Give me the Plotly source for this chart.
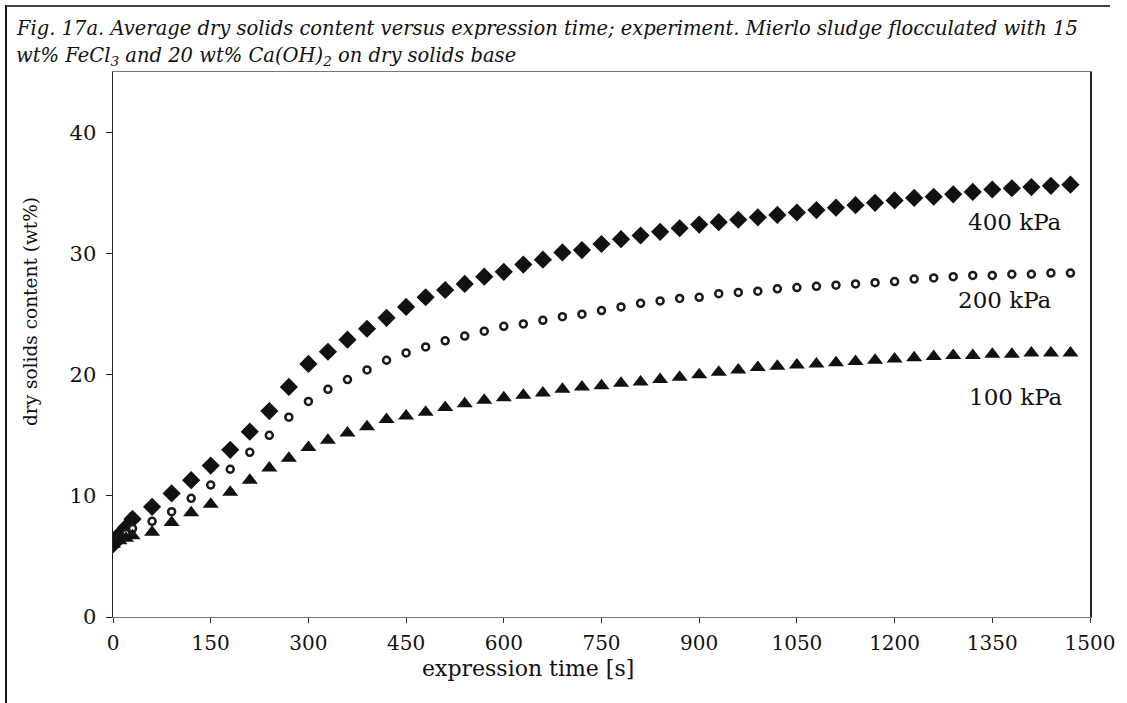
import plotly.graph_objects as go

# ---- data ----
time_s = [0, 10, 20, 30, 60, 90, 120, 150, 180, 210, 240, 270, 300, 330, 360, 390,
          420, 450, 480, 510, 540, 570, 600, 630, 660, 690, 720, 750, 780, 810, 840,
          870, 900, 930, 960, 990, 1020, 1050, 1080, 1110, 1140, 1170, 1200, 1230,
          1260, 1290, 1320, 1350, 1380, 1410, 1440, 1470]

ds_400kPa = [6.0, 6.8, 7.4, 8.1, 9.1, 10.2, 11.3, 12.5, 13.8, 15.3, 17.0, 19.0, 20.9,
             21.9, 22.9, 23.8, 24.7, 25.6, 26.4, 27.0, 27.5, 28.1, 28.5, 29.1, 29.5,
             30.1, 30.3, 30.8, 31.2, 31.5, 31.8, 32.1, 32.4, 32.6, 32.8, 33.0, 33.2,
             33.4, 33.6, 33.8, 34.0, 34.2, 34.4, 34.6, 34.7, 34.9, 35.1, 35.3, 35.4,
             35.5, 35.6, 35.7]

ds_200kPa = [6.0, 6.5, 6.9, 7.3, 7.9, 8.7, 9.8, 10.9, 12.2, 13.6, 15.0, 16.5, 17.8,
             18.8, 19.6, 20.4, 21.2, 21.8, 22.3, 22.8, 23.2, 23.6, 24.0, 24.2, 24.5,
             24.8, 25.0, 25.3, 25.6, 25.9, 26.1, 26.3, 26.4, 26.7, 26.8, 26.9, 27.1,
             27.2, 27.3, 27.4, 27.5, 27.6, 27.7, 27.9, 28.0, 28.1, 28.2, 28.2, 28.3,
             28.3, 28.4, 28.4]

ds_100kPa = [6.0, 6.3, 6.5, 6.7, 7.0, 7.8, 8.6, 9.3, 10.3, 11.3, 12.3, 13.1, 14.0,
             14.6, 15.2, 15.7, 16.3, 16.6, 16.9, 17.3, 17.6, 17.9, 18.1, 18.3, 18.5,
             18.8, 19.0, 19.1, 19.3, 19.4, 19.6, 19.8, 20.0, 20.2, 20.4, 20.6, 20.7,
             20.8, 20.9, 21.0, 21.1, 21.2, 21.3, 21.4, 21.5, 21.6, 21.6, 21.7, 21.7,
             21.8, 21.8, 21.8]

series_labels = ["400 kPa", "200 kPa", "100 kPa"]
label_x = [1385, 1370, 1387]
label_y = [32.6, 26.2, 18.2]

x_ticks = [0, 150, 300, 450, 600, 750, 900, 1050, 1200, 1350, 1500]
y_ticks = [0, 10, 20, 30, 40]

title_line1 = ("<i>Fig. 17a. Average dry solids content versus expression time; experiment. "
               "Mierlo sludge flocculated with 15</i>")
title_line2 = ("<i>wt% FeCl<sub>3</sub> and 20 wt% Ca(OH)<sub>2</sub> on dry solids base</i>")
x_title = "expression time [s]"
y_title = "dry solids content (wt%)"

# ---- layout geometry (pixels) ----
W, H = 1127, 703
L, R, T, B = 113, 37, 72, 86
PW, PH = W - L - R, H - T - B


def px(xp):
    return (xp - L) / PW


def py(yp):
    return (H - B - yp) / PH


SERIF = "DejaVu Serif, serif"
INK = "#111111"

fig = go.Figure()
fig.add_trace(go.Scatter(x=time_s, y=ds_400kPa, mode="markers", name=series_labels[0],
                         marker=dict(symbol="diamond", size=14, color=INK,
                                     line=dict(width=0))))
fig.add_trace(go.Scatter(x=time_s, y=ds_200kPa, mode="markers", name=series_labels[1],
                         marker=dict(symbol="circle", size=7, color="white",
                                     line=dict(width=2.5, color="#1a1a1a"))))
fig.add_trace(go.Scatter(x=time_s, y=ds_100kPa, mode="markers", name=series_labels[2],
                         marker=dict(symbol="triangle-up", size=14, color=INK,
                                     line=dict(width=0))))

for lab, lx, ly in zip(series_labels, label_x, label_y):
    fig.add_annotation(x=lx, y=ly, text=lab, showarrow=False, xanchor="center",
                       yanchor="middle", font=dict(family=SERIF, size=23, color=INK))

# title (two lines)
fig.add_annotation(xref="paper", yref="paper", x=px(14), y=py(28), xanchor="left",
                   yanchor="middle", align="left", text=title_line1, showarrow=False,
                   font=dict(family=SERIF, size=19.5, color=INK))
fig.add_annotation(xref="paper", yref="paper", x=px(14), y=py(57), xanchor="left",
                   yanchor="middle", align="left", text=title_line2, showarrow=False,
                   font=dict(family=SERIF, size=19.5, color=INK))
# axis titles
fig.add_annotation(xref="paper", yref="paper", x=px(528), y=py(668), text=x_title,
                   xanchor="center", yanchor="middle", showarrow=False,
                   font=dict(family=SERIF, size=22, color=INK))
fig.add_annotation(xref="paper", yref="paper", x=px(30), y=py(312), text=y_title,
                   xanchor="center", yanchor="middle", textangle=-90, showarrow=False,
                   font=dict(family=SERIF, size=18.5, color=INK))

# outer frame remnants (left and top border of the scanned figure)
fig.add_shape(type="line", xref="paper", yref="paper", x0=px(6), x1=px(6),
              y0=py(5), y1=py(703), line=dict(color=INK, width=2))
fig.add_shape(type="line", xref="paper", yref="paper", x0=px(6), x1=px(1110),
              y0=py(6), y1=py(6), line=dict(color="#444444", width=2))

fig.update_xaxes(range=[0, 1500], tickvals=x_ticks, ticks="outside", ticklen=5,
                 tickcolor="#333333", showline=True, linecolor="#777777", linewidth=1,
                 mirror=True, showgrid=False, zeroline=False, ticklabelstandoff=3,
                 tickfont=dict(family=SERIF, size=20, color=INK))
fig.update_yaxes(range=[0, 45], tickvals=y_ticks, ticks="outside", ticklen=6,
                 tickcolor="#222222", showline=True, linecolor="#222222", linewidth=1.5,
                 mirror=True, showgrid=False, zeroline=False, ticklabelstandoff=5,
                 tickfont=dict(family=SERIF, size=21, color=INK))

fig.update_layout(width=W, height=H, margin=dict(l=L, r=R, t=T, b=B),
                  paper_bgcolor="white", plot_bgcolor="white", showlegend=False,
                  hovermode=False)

fig.write_html("out.html", config={"displayModeBar": False, "staticPlot": True},
               post_script="document.body.style.margin='0';document.body.style.overflow='hidden';")
